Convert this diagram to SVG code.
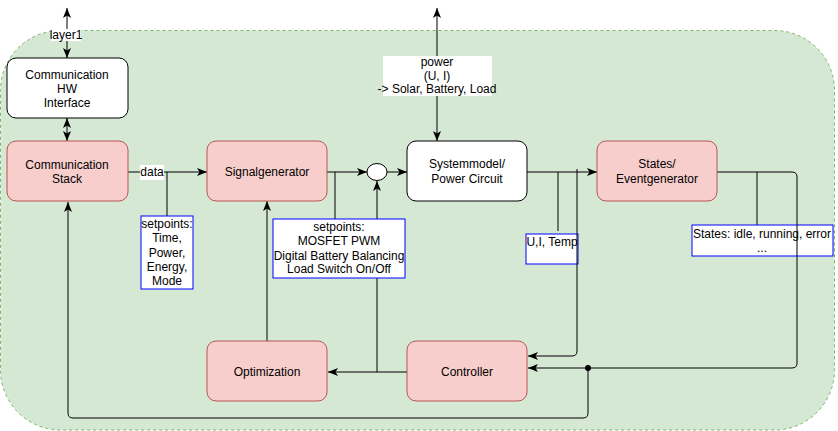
<svg xmlns="http://www.w3.org/2000/svg" width="838" height="431" viewBox="0 0 838 431">
<style>
text{font-family:"Liberation Sans",Arial,sans-serif;font-size:12px;fill:#000;text-anchor:middle;dominant-baseline:central}
.pink{fill:#f8cecc;stroke:#b85450;stroke-width:1}
.white{fill:#fff;stroke:#000;stroke-width:1}
.note{fill:#fff;stroke:#0000ff;stroke-width:1}
.ln{fill:none;stroke:#000;stroke-width:1}
.ar{marker-end:url(#arr)}
.ar2{marker-start:url(#arr);marker-end:url(#arr)}
</style>
<defs>
<marker id="arr" viewBox="0 0 10 8" refX="10" refY="4" markerWidth="10" markerHeight="8" markerUnits="userSpaceOnUse" orient="auto-start-reverse">
<path d="M0,0 L10,4 L0,8 L2.5,4 Z" fill="#000"/>
</marker>
</defs>
<rect id="container" x="0.5" y="30.5" width="834" height="399.5" rx="60" ry="60" fill="#d5e8d4" stroke="#82b366" stroke-dasharray="3,3"/>
<g id="connectors">
<path class="ln ar2" d="M67,8 V58"/>
<path class="ln ar2" d="M67,118 V141"/>
<path class="ln ar" d="M128,172 H207"/>
<path class="ln" d="M167,172 V216"/>
<path class="ln ar" d="M327,172 H367"/>
<path class="ln" d="M335,172 V219"/>
<path class="ln ar" d="M387,172 H407"/>
<path class="ln ar2" d="M437,8 V141"/>
<path class="ln ar" d="M527,172 H597"/>
<path class="ln" d="M558,172 V231"/>
<path class="ln ar" d="M577,169 V351 Q577,356 572,356 H528"/>
<path class="ln ar" d="M717,172 H792 Q797,172 797,177 V363 Q797,368 792,368 H528"/>
<path class="ln" d="M757,172 V228"/>
<path class="ln ar" d="M588,368 V413 Q588,418 583,418 H73 Q68,418 68,413 V202"/>
<circle cx="588" cy="368" r="3" fill="#000"/>
<path class="ln ar" d="M407,372 H328"/>
<path class="ln ar" d="M377,372 V181"/>
<path class="ln ar" d="M267,341 V201"/>
</g>
<g id="label-layer1"><rect x="51" y="29" width="30" height="12" fill="#fff"/><text x="66" y="35">layer1</text></g>
<g id="label-data"><rect x="140" y="165" width="24" height="15" fill="#fff"/><text x="152" y="172">data</text></g>
<g id="label-power"><rect x="383" y="56" width="109" height="40" fill="#fff"/><text x="437" y="62">power</text><text x="437" y="76">(U, I)</text><text x="437" y="89">-&gt; Solar, Battery, Load</text></g>
<g id="hw"><rect class="white" x="7" y="58" width="121" height="60" rx="9"/><text x="67" y="75">Communication</text><text x="67" y="89">HW</text><text x="67" y="103">Interface</text></g>
<g id="stack"><rect class="pink" x="7" y="141" width="121" height="60" rx="9"/><text x="67" y="165">Communication</text><text x="67" y="179">Stack</text></g>
<g id="signalgenerator"><rect class="pink" x="207" y="141" width="120" height="60" rx="9"/><text x="267" y="172">Signalgenerator</text></g>
<g id="sum"><ellipse cx="377" cy="172" rx="10" ry="8.5" fill="#fff" stroke="#000"/></g>
<g id="systemmodel"><rect class="white" x="407" y="141" width="120" height="60" rx="9"/><text x="467" y="164">Systemmodel/</text><text x="467" y="179">Power Circuit</text></g>
<g id="states"><rect class="pink" x="597" y="141" width="120" height="60" rx="9"/><text x="657" y="164">States/</text><text x="657" y="179">Eventgenerator</text></g>
<g id="optimization"><rect class="pink" x="207" y="341" width="120" height="60" rx="9"/><text x="267" y="372">Optimization</text></g>
<g id="controller"><rect class="pink" x="407" y="341" width="120" height="60" rx="9"/><text x="467" y="372">Controller</text></g>
<g id="setpoints1"><rect class="note" x="141" y="216" width="52" height="73"/><text x="167" y="224">setpoints:</text><text x="167" y="238">Time,</text><text x="167" y="253">Power,</text><text x="167" y="267">Energy,</text><text x="167" y="281">Mode</text></g>
<g id="setpoints2"><rect class="note" x="273" y="219" width="132" height="59"/><text x="339" y="227">setpoints:</text><text x="339" y="241">MOSFET PWM</text><text x="339" y="256">Digital Battery Balancing</text><text x="339" y="269">Load Switch On/Off</text></g>
<g id="uit"><rect class="note" x="526" y="234" width="52" height="30"/><text x="552" y="242">U,I, Temp</text></g>
<path class="ln" d="M577,234 V264"/>
<g id="statesnote"><rect class="note" x="692" y="225" width="141" height="31"/><text x="762" y="234">States: idle, running, error</text><text x="762" y="248">...</text></g>
<path class="ln" d="M797,225 V256"/>
</svg>
